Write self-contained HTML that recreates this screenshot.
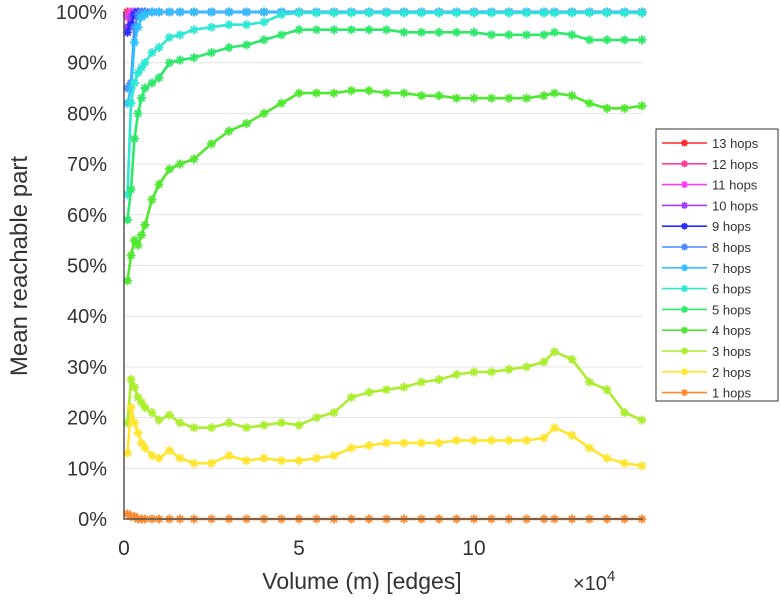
<!DOCTYPE html>
<html><head><meta charset="utf-8">
<style>
body{margin:0;background:#fff;}
svg{display:block;font-family:"Liberation Sans",sans-serif;}
</style></head>
<body>
<svg id="chart" width="781" height="600" viewBox="0 0 781 600" xmlns="http://www.w3.org/2000/svg">
<g id="grid"></g>
<g id="series"></g>
<g id="axes"></g>
<text x="0" y="0" transform="translate(27,266) rotate(-90)" text-anchor="middle" font-size="24" fill="#333">Mean reachable part</text>
<text x="362" y="589" text-anchor="middle" font-size="23" fill="#333">Volume (m) [edges]</text>
<text x="573" y="590" font-size="20" fill="#333">×10<tspan dy="-9" font-size="15">4</tspan></text>
<g id="legend"></g>
</svg>
<script>
const xs=[0.1,0.2,0.3,0.4,0.5,0.6,0.8,1.0,1.3,1.6,2.0,2.5,3.0,3.5,4.0,4.5,5.0,5.5,6.0,6.5,7.0,7.5,8.0,8.5,9.0,9.5,10,10.5,11,11.5,12,12.3,12.8,13.3,13.8,14.3,14.8];
const h13=[100,100,100,100,100,100,100,100,100,100,100,100,100,100,100,100,100,100,100,100,100,100,100,100,100,100,100,100,100,100,100,100,100,100,100,100,100];
const h12=[99.5,100,100,100,100,100,100,100,100,100,100,100,100,100,100,100,100,100,100,100,100,100,100,100,100,100,100,100,100,100,100,100,100,100,100,100,100];
const h11=[99,100,100,100,100,100,100,100,100,100,100,100,100,100,100,100,100,100,100,100,100,100,100,100,100,100,100,100,100,100,100,100,100,100,100,100,100];
const h10=[97,99,100,100,100,100,100,100,100,100,100,100,100,100,100,100,100,100,100,100,100,100,100,100,100,100,100,100,100,100,100,100,100,100,100,100,100];
const h9=[96,97.5,99.5,100,100,100,100,100,100,100,100,100,100,100,100,100,100,100,100,100,100,100,100,100,100,100,100,100,100,100,100,100,100,100,100,100,100];
const h8=[85,86,97,99.5,100,100,100,100,100,100,100,100,100,100,100,100,100,100,100,100,100,100,100,100,100,100,100,100,100,100,100,100,100,100,100,100,100];
const h7=[82,85,94,97,99,99.5,100,100,100,100,100,100,100,100,100,100,100,100,100,100,100,100,100,100,100,100,100,100,100,100,100,100,100,100,100,100,100];
const h6=[64,82,86,88,89,90,92,93,95,95.5,96.5,97,97.5,97.5,98,99.5,99.8,99.8,99.8,99.8,99.8,99.8,99.8,99.8,99.8,99.8,99.8,99.8,99.8,99.8,99.8,99.8,99.8,99.8,99.8,99.8,99.8];
const h5=[59,65,75,80,83,85,86,87,90,90.5,91,92,93,93.5,94.5,95.5,96.5,96.5,96.5,96.5,96.5,96.5,96,96,96,96,96,95.5,95.5,95.5,95.5,96,95.5,94.5,94.5,94.5,94.5];
const h4=[47,52,55,54,56,58,63,66,69,70,71,74,76.5,78,80,82,84,84,84,84.5,84.5,84,84,83.5,83.5,83,83,83,83,83,83.5,84,83.5,82,81,81,81.5];
const h3=[19,27.5,26,24,23,22,21,19.5,20.5,19,18,18,19,18,18.5,19,18.5,20,21,24,25,25.5,26,27,27.5,28.5,29,29,29.5,30,31,33,31.5,27,25.5,21,19.5];
const h2=[13,22,19,17,15,14,12.5,12,13.5,12,11,11,12.5,11.5,12,11.5,11.5,12,12.5,14,14.5,15,15,15,15,15.5,15.5,15.5,15.5,15.5,16,18,16.5,14,12,11,10.5];
const h1=[1,0.5,0.5,0,0,0,0,0,0,0,0,0,0,0,0,0,0,0,0,0,0,0,0,0,0,0,0,0,0,0,0,0,0,0,0,0,0];
const seriesNames=["13 hops","12 hops","11 hops","10 hops","9 hops","8 hops","7 hops","6 hops","5 hops","4 hops","3 hops","2 hops","1 hops"];
const seriesVals=[h13,h12,h11,h10,h9,h8,h7,h6,h5,h4,h3,h2,h1];
const colors=["#ff2a2a","#ff3d99","#ff3df0","#a03dff","#2b2bff","#4b8bff","#2ec2ff","#2ee8d4","#2ee86a","#4ee82e","#aaee2e","#ffe52e","#ff8a2e"];
const yTicks=[0,10,20,30,40,50,60,70,80,90,100];
const xTicks=[0,5,10];

const NS="http://www.w3.org/2000/svg";
const X0=124,X1=643,Y0=519,Y1=12,XMAX=14.83;
function sx(v){return X0+(v/XMAX)*(X1-X0);}
function sy(v){return Y0-(v/100)*(Y0-Y1);}
function mk(tag,attrs,parent){const e=document.createElementNS(NS,tag);for(const k in attrs)e.setAttribute(k,attrs[k]);parent.appendChild(e);return e;}
const grid=document.getElementById('grid'),axes=document.getElementById('axes'),ser=document.getElementById('series'),leg=document.getElementById('legend');
mk('rect',{x:X0,y:Y1,width:X1-X0,height:Y0-Y1,fill:'#fff'},grid);
yTicks.forEach(t=>{
  const l=mk('line',{x1:X0,x2:X1,y1:sy(t),y2:sy(t),stroke:'#e4e4e4','stroke-width':1},grid);
  
  
  const tx=mk('text',{x:107,y:sy(t)+7,'text-anchor':'end','font-size':20,fill:'#333'},axes);
  tx.textContent=t+'%';
  
  
});
xTicks.forEach(t=>{
  const tx=mk('text',{x:sx(t),y:555,'text-anchor':'middle','font-size':21,fill:'#333'},axes);
  tx.textContent=t;
  
  
});
const ax=mk('path',{d:`M${X0},${Y1} V${Y0} H${X1}`,fill:'none',stroke:'#555','stroke-width':1.5},axes);


function star(g,x,y,c,r){
  mk('path',{d:`M${x-r},${y}H${x+r}M${x},${y-r}V${y+r}M${x-r*0.7},${y-r*0.7}L${x+r*0.7},${y+r*0.7}M${x-r*0.7},${y+r*0.7}L${x+r*0.7},${y-r*0.7}`,stroke:c,'stroke-width':1.8,fill:'none'},g);
}
for(let s=0;s<seriesVals.length;s++){
  const vals=seriesVals[s];
  const g=mk('g',{},ser);
  
  
  const pts=xs.map((x,i)=>sx(x).toFixed(1)+','+sy(vals[i]).toFixed(1)).join(' ');
  mk('polyline',{points:pts,fill:'none',stroke:colors[s],'stroke-width':2.6},g);
  xs.forEach((x,i)=>star(g,sx(x),sy(vals[i]),colors[s],4.5));
}
mk('rect',{x:656,y:129,width:122,height:272,fill:'#fff',stroke:'#333','stroke-width':1},leg);
seriesNames.forEach((n,i)=>{
  const y=143+i*20.8;
  const g=mk('g',{},leg);
  
  
  mk('line',{x1:662,x2:707,y1:y,y2:y,stroke:colors[i],'stroke-width':1.6},g);
  star(g,684.5,y,colors[i],3.5);
  const t=mk('text',{x:712,y:y+5,'font-size':13,fill:'#333'},g);
  t.textContent=n;
});
</script>
</body></html>
